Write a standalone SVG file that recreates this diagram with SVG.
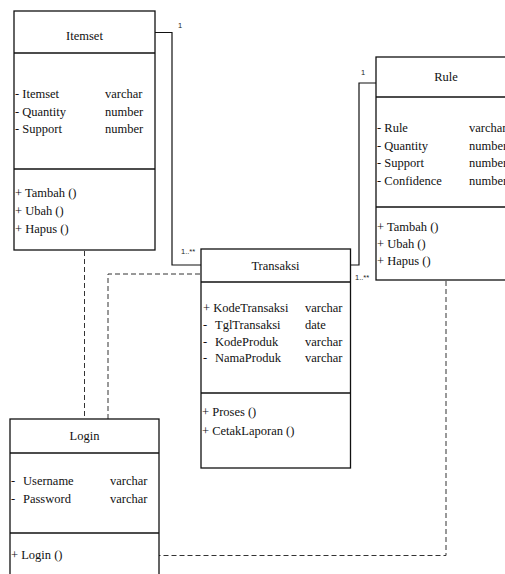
<svg xmlns="http://www.w3.org/2000/svg" width="505" height="574" viewBox="0 0 505 574">
<style>
.box{fill:#fff;stroke:#111;stroke-width:1.3}
.div{stroke:#111;stroke-width:1.3}
.t{font-family:"Liberation Serif","Times New Roman",serif;font-size:12.5px;fill:#111}
.h{font-family:"Liberation Serif","Times New Roman",serif;font-size:12.5px;fill:#111;text-anchor:middle}
.m{font-family:"Liberation Sans",Arial,sans-serif;font-size:7.5px;fill:#222}
.solid{fill:none;stroke:#111;stroke-width:1.2}
.dash{fill:none;stroke:#333;stroke-width:1;stroke-dasharray:5,3}
</style>
<rect width="505" height="574" fill="#fff"/>
<g id="connectors">
<polyline class="solid" points="155,32.5 172,32.5 172,265 201,265"/>
<polyline class="solid" points="350,265 359,265 359,83 376,83"/>
<polyline class="dash" points="84.5,251 84.5,419"/>
<polyline class="dash" points="108,419 108,274 201,274"/>
<polyline class="dash" points="446,281 446,555.5 159,555.5"/>
<text class="m" x="178" y="28">1</text>
<text class="m" x="181" y="254">1..**</text>
<text class="m" x="361" y="75">1</text>
<text class="m" x="355" y="280">1..**</text>
</g>
<g id="itemset">
<rect class="box" x="14" y="11" width="141" height="239"/>
<line class="div" x1="14" y1="53" x2="155" y2="53"/>
<line class="div" x1="14" y1="169" x2="155" y2="169"/>
<text class="h" x="84.5" y="40">Itemset</text>
<text class="t" x="15" y="98">- Itemset</text><text class="t" x="105" y="98">varchar</text>
<text class="t" x="15" y="116">- Quantity</text><text class="t" x="105" y="116">number</text>
<text class="t" x="15" y="133">- Support</text><text class="t" x="105" y="133">number</text>
<text class="t" x="15" y="197">+ Tambah ()</text>
<text class="t" x="15" y="215">+ Ubah ()</text>
<text class="t" x="15" y="233">+ Hapus ()</text>
</g>
<g id="transaksi">
<rect class="box" x="201" y="249" width="149.5" height="219"/>
<line class="div" x1="201" y1="282" x2="350.5" y2="282"/>
<line class="div" x1="201" y1="393" x2="350.5" y2="393"/>
<text class="h" x="275.5" y="270">Transaksi</text>
<text class="t" x="203" y="312">+ KodeTransaksi</text><text class="t" x="305" y="312">varchar</text>
<text class="t" x="203" y="329">-</text><text class="t" x="215" y="329">TglTransaksi</text><text class="t" x="305" y="329">date</text>
<text class="t" x="203" y="346">-</text><text class="t" x="215" y="346">KodeProduk</text><text class="t" x="305" y="346">varchar</text>
<text class="t" x="203" y="362">-</text><text class="t" x="215" y="362">NamaProduk</text><text class="t" x="305" y="362">varchar</text>
<text class="t" x="202" y="416">+ Proses ()</text>
<text class="t" x="202" y="435">+ CetakLaporan ()</text>
</g>
<g id="rule">
<rect class="box" x="376" y="57" width="140" height="223"/>
<line class="div" x1="376" y1="97" x2="516" y2="97"/>
<line class="div" x1="376" y1="207" x2="516" y2="207"/>
<text class="h" x="446" y="81">Rule</text>
<text class="t" x="377" y="132">- Rule</text><text class="t" x="469" y="132">varchar</text>
<text class="t" x="377" y="150">- Quantity</text><text class="t" x="469" y="150">number</text>
<text class="t" x="377" y="167">- Support</text><text class="t" x="469" y="167">number</text>
<text class="t" x="377" y="185">- Confidence</text><text class="t" x="469" y="185">number</text>
<text class="t" x="377" y="231">+ Tambah ()</text>
<text class="t" x="377" y="248">+ Ubah ()</text>
<text class="t" x="377" y="265">+ Hapus ()</text>
</g>
<g id="login">
<rect class="box" x="10" y="419" width="149" height="170"/>
<line class="div" x1="10" y1="453" x2="159" y2="453"/>
<line class="div" x1="10" y1="533" x2="159" y2="533"/>
<text class="h" x="84.5" y="440">Login</text>
<text class="t" x="11" y="485">-</text><text class="t" x="23" y="485">Username</text><text class="t" x="110" y="485">varchar</text>
<text class="t" x="11" y="503">-</text><text class="t" x="23" y="503">Password</text><text class="t" x="110" y="503">varchar</text>
<text class="t" x="11" y="559">+ Login ()</text>
</g>
</svg>
